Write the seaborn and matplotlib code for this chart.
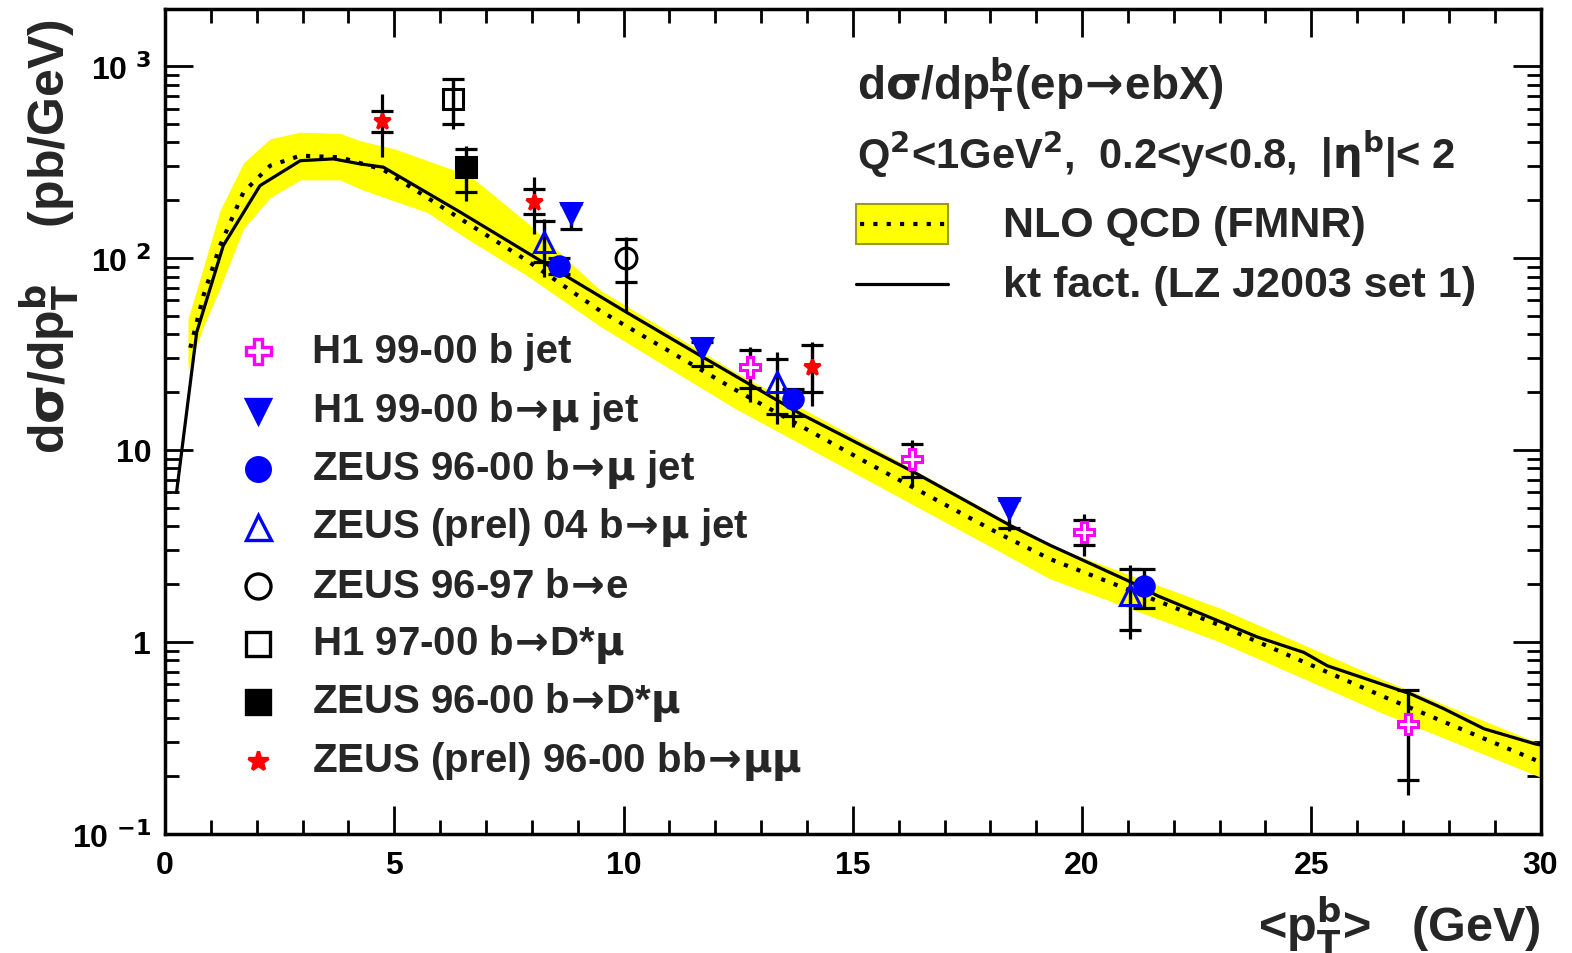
import matplotlib
matplotlib.use('Agg')
import matplotlib.pyplot as plt
import seaborn as sns
import numpy as np
from matplotlib.ticker import FixedLocator, FixedFormatter, MultipleLocator, LogLocator, NullFormatter
from matplotlib.patches import Rectangle

# ---- theory curves ----
# NLO QCD (FMNR): central value (dotted) and uncertainty band (yellow)
nlo_x = [0.55, 0.84, 1.2, 1.71, 2.29, 2.95, 3.82, 4.76, 6.44, 7.89, 9.49, 12.4, 15.3, 18.2, 19.3, 23.0, 26.6, 30.0]
nlo_y = [34, 64, 116, 220, 302, 341, 334, 288, 160, 97, 53, 20.8, 8.6, 3.65, 2.7, 1.22, 0.515, 0.236]
band_x = [0.5, 0.84, 1.2, 1.71, 2.29, 2.95, 3.82, 4.25, 5.0, 5.71, 6.65, 7.89, 9.49, 12.4, 15.3, 19.3, 23.0, 26.6, 30.0]
band_lo = [26, 44, 70, 142, 206, 255, 255, 229, 198, 173, 123, 81, 44, 16.6, 7.0, 2.13, 1.0, 0.42, 0.197]
band_hi = [48, 90, 177, 312, 417, 452, 445, 408, 370, 322, 268, 153, 68, 25.7, 10.8, 3.18, 1.5, 0.63, 0.294]

# kt factorisation (LZ J2003 set 1)
kt_x = [0.25, 0.36, 0.69, 1.27, 2.07, 2.95, 3.67, 4.25, 4.76, 6.44, 8.18, 10.07, 11.67, 13.86, 16.33,
        18.44, 19.31, 21.06, 21.64, 23.82, 24.84, 25.35, 27.17, 27.89, 28.77, 29.88, 30.0]
kt_y = [6.0, 9.7, 41, 116, 238, 321, 328, 309, 297, 173, 97, 52, 31, 15.4, 7.66,
        4.03, 3.18, 2.05, 1.74, 1.06, 0.88, 0.75, 0.535, 0.448, 0.352, 0.294, 0.29]

# ---- measurements: value, stat (inner ticks) and total (outer bar) ranges ----
h1_bjet_x = [12.75, 16.3, 20.05, 27.1]
h1_bjet_y = [27.0, 9.0, 3.75, 0.375]
h1_bjet_stat = [(21.0, 33.0), (7.2, 10.7), (3.2, 4.3), (0.19, 0.56)]
h1_bjet_tot = [(17.7, 34.5), (6.4, 11.2), (2.8, 4.65), (0.16, 0.57)]

h1_mujet_x = [8.85, 11.7, 18.4]
h1_mujet_y = [172, 34.0, 5.0]
h1_mujet_stat = [(142, 191), (27.5, 36.4), (3.9, 5.45)]
h1_mujet_tot = [(140, 195), (26, 38), (3.8, 5.5)]

zeus_mujet_x = [8.6, 13.7, 21.35]
zeus_mujet_y = [91, 18.5, 1.95]
zeus_mujet_stat = [(82, 100), (15.0, 20.8), (1.5, 2.4)]
zeus_mujet_tot = [(80, 102), (13.2, 21.0), (1.5, 2.4)]

zeus04_mujet_x = [8.27, 13.35, 21.05]
zeus04_mujet_y = [121, 22.5, 1.75]
zeus04_mujet_stat = [(95, 156), (15.4, 29.8), (1.15, 2.4)]
zeus04_mujet_tot = [(80, 160), (13.6, 32.3), (1.04, 2.5)]

zeus_be_x = [10.05]
zeus_be_y = [100]
zeus_be_stat = [(75, 126)]
zeus_be_tot = [(53, 128)]

h1_dstar_x = [6.27]
h1_dstar_y = [673]
h1_dstar_stat = [(499, 855)]
h1_dstar_tot = [(470, 860)]

zeus_dstar_x = [6.57]
zeus_dstar_y = [297]
zeus_dstar_stat = [(220, 370)]
zeus_dstar_tot = [(199, 385)]

zeus_mumu_x = [4.74, 8.04, 14.1]
zeus_mumu_y = [519, 195, 27.0]
zeus_mumu_stat = [(452, 585), (169, 229), (20.0, 35.0)]
zeus_mumu_tot = [(334, 714), (133, 263), (17.0, 36.4)]

ARR = r'$\!\rightarrow\!$'
MU = r'$\mathrm{\mu}$'
labels = ['H1 99-00 b jet',
          'H1 99-00 b' + ARR + MU + ' jet',
          'ZEUS 96-00 b' + ARR + MU + ' jet',
          'ZEUS (prel) 04 b' + ARR + MU + ' jet',
          'ZEUS 96-97 b' + ARR + 'e',
          'H1 97-00 b' + ARR + 'D*' + MU,
          'ZEUS 96-00 b' + ARR + 'D*' + MU,
          'ZEUS (prel) 96-00 bb' + ARR + MU + MU]

series = [
    (h1_bjet_x, h1_bjet_y, h1_bjet_stat, h1_bjet_tot, 'P', 'white', '#ff00ff', 15),
    (h1_mujet_x, h1_mujet_y, h1_mujet_stat, h1_mujet_tot, 'v', '#0000ff', '#0000ff', 14),
    (zeus_mujet_x, zeus_mujet_y, zeus_mujet_stat, zeus_mujet_tot, 'o', '#0000ff', '#0000ff', 14),
    (zeus04_mujet_x, zeus04_mujet_y, zeus04_mujet_stat, zeus04_mujet_tot, '^', 'none', '#0000ff', 15),
    (zeus_be_x, zeus_be_y, zeus_be_stat, zeus_be_tot, 'o', 'none', 'black', 15),
    (h1_dstar_x, h1_dstar_y, h1_dstar_stat, h1_dstar_tot, 's', 'none', 'black', 14),
    (zeus_dstar_x, zeus_dstar_y, zeus_dstar_stat, zeus_dstar_tot, 's', 'black', 'black', 14),
    (zeus_mumu_x, zeus_mumu_y, zeus_mumu_stat, zeus_mumu_tot, '*', '#ff0000', '#ff0000', 12),
]

sns.set_theme(style='ticks')
plt.rcParams['font.family'] = ['Liberation Sans', 'DejaVu Sans']
plt.rcParams['font.weight'] = 'bold'
plt.rcParams['mathtext.fontset'] = 'dejavusans'

fig = plt.figure(figsize=(15.72, 9.54), dpi=100)
ax = fig.add_axes([0.105, 0.125, 0.875, 0.8645])

# theory
ax.fill_between(band_x, band_lo, band_hi, color='#ffff00', lw=0, zorder=1)
sns.lineplot(x=nlo_x, y=nlo_y, ax=ax, color='black', lw=3, linestyle=(0, (1, 2.2)),
             estimator=None, sort=False, zorder=2)
sns.lineplot(x=kt_x, y=kt_y, ax=ax, color='black', lw=2.3, estimator=None, sort=False, zorder=3)

# data points
for xs, ys, stat, tot, mk, fc, ec, ms in series:
    xs = np.array(xs)
    ys = np.array(ys)
    st = np.array(stat)
    tt = np.array(tot)
    ax.errorbar(xs, ys, yerr=[ys - tt[:, 0], tt[:, 1] - ys], fmt='none', ecolor='black',
                elinewidth=2.3, capsize=0, zorder=4)
    ax.errorbar(xs, ys, yerr=[ys - st[:, 0], st[:, 1] - ys], fmt='none', ecolor='black',
                elinewidth=2.3, capsize=8, capthick=2.3, zorder=4)
    ax.plot(xs, ys, linestyle='none', marker=mk, markersize=ms, markerfacecolor=fc,
            markeredgecolor=ec, markeredgewidth=2.2, zorder=5)

ax.set_yscale('log')
ax.set_xlim(0, 30)
ax.set_ylim(0.1, 1980)

# ticks (inside on all sides)
ax.xaxis.set_major_locator(MultipleLocator(5))
ax.xaxis.set_minor_locator(MultipleLocator(1))
ax.yaxis.set_major_locator(FixedLocator([0.1, 1, 10, 100, 1000]))
ax.yaxis.set_major_formatter(FixedFormatter([r'10 $^{\mathbf{-1}}$', '1', '10',
                                             r'10 $^{\mathbf{2}}$', r'10 $^{\mathbf{3}}$']))
ax.yaxis.set_minor_locator(LogLocator(base=10, subs=np.arange(2, 10)))
ax.yaxis.set_minor_formatter(NullFormatter())
ax.tick_params(which='both', direction='in', top=True, right=True, width=2, colors='black')
ax.tick_params(which='major', length=20, labelsize=23)
ax.tick_params(axis='y', which='major', pad=10)
ax.tick_params(axis='x', which='major', pad=12)
ax.tick_params(which='minor', length=10)
for lab in ax.get_xticklabels() + ax.get_yticklabels():
    lab.set_fontweight('bold')
for sp in ax.spines.values():
    sp.set_linewidth(2.5)
    sp.set_color('black')
ax.grid(False)

# axis titles
fig.text(0.031, 0.752, r'd$\mathrm{\sigma}$/dp$_{\mathbf{T}}^{\mathbf{b}}$    (pb/GeV)', rotation=90,
         ha='center', va='center', fontsize=36, fontweight='bold')
fig.text(0.98, 0.030, r'<p$_{\mathbf{T}}^{\mathbf{b}}$>   (GeV)', ha='right', va='center',
         fontsize=35, fontweight='bold')

# header and theory legend
ax.text(0.503, 0.909, r'd$\mathrm{\sigma}$/dp$_{\mathbf{T}}^{\mathbf{b}}$(ep' + ARR + 'ebX)',
        transform=ax.transAxes, ha='left', va='center', fontsize=33, fontweight='bold')
ax.text(0.503, 0.826, r'Q$^{\mathbf{2}}$<1GeV$^{\mathbf{2}}$,  0.2<y<0.8,  |$\mathrm{\eta}^{\mathbf{b}}$|< 2',
        transform=ax.transAxes, ha='left', va='center', fontsize=30, fontweight='bold')
ax.add_patch(Rectangle((0.502, 0.715), 0.067, 0.049, transform=ax.transAxes,
                       facecolor='#ffff00', edgecolor='#9a9a20', lw=1.5, zorder=6))
ax.plot([0.505, 0.567], [0.7395, 0.7395], transform=ax.transAxes, color='black', lw=3,
        linestyle=(0, (1, 2.2)), zorder=7)
ax.text(0.609, 0.738, 'NLO QCD (FMNR)', transform=ax.transAxes, ha='left', va='center',
        fontsize=31, fontweight='bold')
ax.plot([0.502, 0.569], [0.667, 0.667], transform=ax.transAxes, color='black', lw=2.3, zorder=7)
ax.text(0.609, 0.665, 'kt fact. (LZ J2003 set 1)', transform=ax.transAxes, ha='left', va='center',
        fontsize=31, fontweight='bold')

# data legend
row_y = [0.5855, 0.5127, 0.4424, 0.3721, 0.3006, 0.2303, 0.1600, 0.0885]
for (xs, ys, stat, tot, mk, fc, ec, ms), lab, ry in zip(series, labels, row_y):
    ax.plot([0.0676], [ry], transform=ax.transAxes, linestyle='none', marker=mk, markersize=ms + 3,
            markerfacecolor=fc, markeredgecolor=ec, markeredgewidth=2.4, zorder=7, clip_on=False)
    ax.text(0.107, ry, lab, transform=ax.transAxes, ha='left', va='center', fontsize=29,
            fontweight='bold')

fig.savefig('out.png', dpi=100)
